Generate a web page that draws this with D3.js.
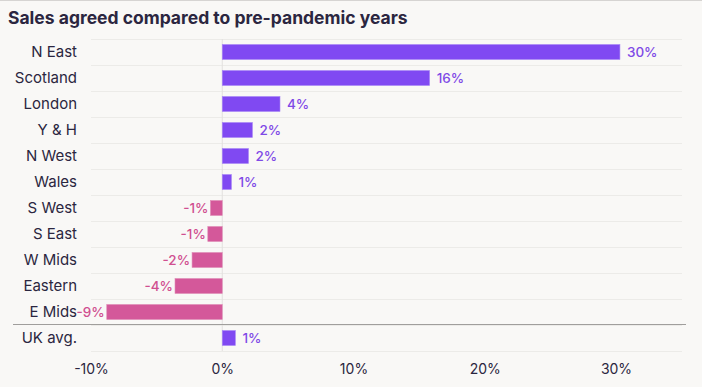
<!DOCTYPE html>
<html>
<head>
<meta charset="utf-8">
<script src="https://cdn.jsdelivr.net/npm/d3@7"></script>
<style>
  body { margin: 0; background: #f9f8f6; }
  svg { display: block; }
</style>
</head>
<body>
<svg id="svg" width="702" height="387"></svg>
<script>
var regions = ["N East", "Scotland", "London", "Y & H", "N West", "Wales",
               "S West", "S East", "W Mids", "Eastern", "E Mids", "UK avg."];
var change = [30.3, 15.8, 4.4, 2.3, 2.0, 0.7, -0.9, -1.1, -2.3, -3.6, -8.8, 1.0];
var ticks = [-10, 0, 10, 20, 30];

var rows = regions.map(function(r, i) { return { name: r, v: change[i] }; });

var purple = "#8049f2", pink = "#d4589a";
var svg = d3.select("#svg");

svg.append("rect").attr("width", 702).attr("height", 387).attr("fill", "#f9f8f6");
svg.append("line").attr("x1", 0).attr("x2", 702).attr("y1", 0.5).attr("y2", 0.5)
  .attr("stroke", "#d6d4d2");

svg.append("text")
  .attr("x", 8).attr("y", 24)
  .attr("font-family", "Inter, 'Noto Sans', sans-serif")
  .attr("font-weight", 700).attr("font-size", 17.5)
  .attr("fill", "#2b2640")
  .text("Sales agreed compared to pre-pandemic years");

var x = d3.scaleLinear().domain([-10, 30]).range([91, 616]);
var y = d3.scaleBand().domain(regions).range([39, 351]).padding(0);
var bh = 15;

// row grid lines
var gl = d3.range(regions.length + 1);
svg.selectAll(".grid").data(gl).enter().append("line")
  .attr("x1", 91).attr("x2", 682)
  .attr("y1", function(i) { return 39 + i * y.step() + 0.5; })
  .attr("y2", function(i) { return 39 + i * y.step() + 0.5; })
  .attr("stroke", "#ecebe8").attr("stroke-width", 1);

// zero line
svg.append("line")
  .attr("x1", x(0)).attr("x2", x(0))
  .attr("y1", 39).attr("y2", 351)
  .attr("stroke", "#e2e0de");

// bars
svg.selectAll(".bar").data(rows).enter().append("rect")
  .attr("x", function(d) { return x(Math.min(0, d.v)); })
  .attr("y", function(d) { return y(d.name) + (y.bandwidth() - bh) / 2; })
  .attr("width", function(d) { return Math.abs(x(d.v) - x(0)); })
  .attr("height", bh)
  .attr("fill", function(d) { return d.v >= 0 ? purple : pink; })
  .attr("stroke", function(d) { return d.v >= 0 ? "#a888f5" : "#e08cb6"; })
  .attr("stroke-width", 0.6);

// separator before UK avg
svg.append("line")
  .attr("x1", 13).attr("x2", 686)
  .attr("y1", y("UK avg.") - 0.5).attr("y2", y("UK avg.") - 0.5)
  .attr("stroke", "#a09e9c").attr("stroke-width", 1.2);

// category labels
svg.selectAll(".cat").data(rows).enter().append("text")
  .attr("x", 77)
  .attr("y", function(d) { return y(d.name) + y.bandwidth() / 2; })
  .attr("dy", "0.35em")
  .attr("text-anchor", "end")
  .attr("font-family", "Inter, 'Noto Sans', sans-serif")
  .attr("font-size", 15)
  .attr("fill", "#2b2640")
  .text(function(d) { return d.name; });

// value labels
svg.selectAll(".val").data(rows).enter().append("text")
  .attr("x", function(d) { return d.v >= 0 ? x(d.v) + 7 : x(d.v) - 2; })
  .attr("y", function(d) { return y(d.name) + y.bandwidth() / 2; })
  .attr("dy", "0.35em")
  .attr("text-anchor", function(d) { return d.v >= 0 ? "start" : "end"; })
  .attr("font-family", "Inter, 'Noto Sans', sans-serif")
  .attr("font-weight", 500)
  .attr("font-size", 13.5)
  .attr("fill", function(d) { return d.v >= 0 ? "#7f4ae6" : "#d04f90"; })
  .text(function(d) { return Math.round(d.v) + "%"; });

// x axis
var ax = svg.append("g").attr("transform", "translate(0,351)")
  .call(d3.axisBottom(x).tickValues(ticks).tickSize(0).tickPadding(13)
    .tickFormat(function(d) { return d + "%"; }));
ax.select(".domain").remove();
ax.selectAll("text")
  .attr("font-family", "Inter, 'Noto Sans', sans-serif")
  .attr("font-size", 14)
  .attr("fill", "#2b2640");
</script>
</body>
</html>
